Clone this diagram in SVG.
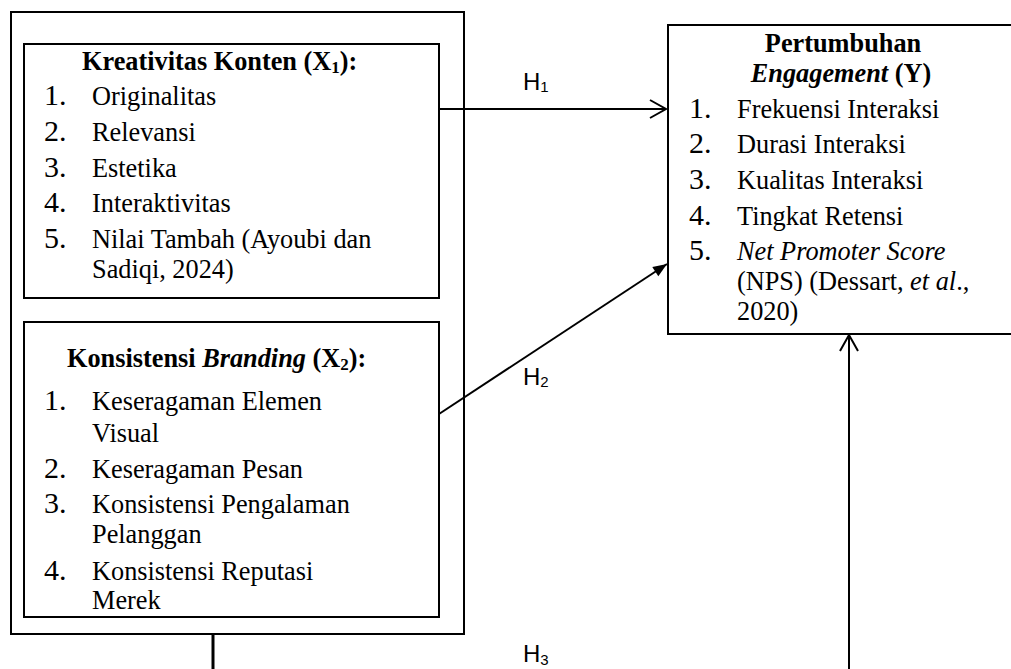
<svg xmlns="http://www.w3.org/2000/svg" width="1011" height="669" viewBox="0 0 1011 669">
<style>
.box{fill:none;stroke:#000;stroke-width:2}
.t{font-family:"Liberation Serif","Times New Roman",serif;font-size:26.3px;fill:#000}
.n{font-family:"Liberation Serif","Times New Roman",serif;font-size:30px;fill:#000}
.b{font-weight:bold}
.i{font-style:italic}
.h{font-family:"Liberation Sans",Arial,sans-serif;font-size:24px;fill:#000}
.ln{fill:none;stroke:#000;stroke-width:2}
</style>
<defs>
<marker id="open" markerUnits="userSpaceOnUse" markerWidth="20" markerHeight="20" refX="16" refY="9" orient="auto" overflow="visible">
<path d="M0,0 L16,9 L0,18" fill="none" stroke="#000" stroke-width="2"/>
</marker>
<marker id="fill" markerUnits="userSpaceOnUse" markerWidth="16" markerHeight="12" refX="14" refY="5.5" orient="auto" overflow="visible">
<path d="M0,0 L14,5.5 L0,11 z" fill="#000"/>
</marker>
</defs>
<rect width="1011" height="669" fill="#fff"/>
<g id="outer">
<rect class="box" x="11" y="12" width="453" height="622"/>
</g>
<g id="x1">
<rect class="box" x="24" y="44" width="415" height="254"/>
<text class="t b" x="82" y="70">Kreativitas Konten (X<tspan font-size="17" dy="3">1</tspan><tspan dy="-3">):</tspan></text>
<text class="n" x="44" y="105">1.</text><text class="t" x="92" y="105">Originalitas</text>
<text class="n" x="44" y="141">2.</text><text class="t" x="92" y="141">Relevansi</text>
<text class="n" x="44" y="177">3.</text><text class="t" x="92" y="177">Estetika</text>
<text class="n" x="44" y="212">4.</text><text class="t" x="92" y="212">Interaktivitas</text>
<text class="n" x="44" y="248">5.</text><text class="t" x="92" y="248">Nilai Tambah (Ayoubi dan</text>
<text class="t" x="92" y="278">Sadiqi, 2024)</text>
</g>
<g id="x2">
<rect class="box" x="24" y="322" width="415" height="295"/>
<text class="t b" x="67" y="367">Konsistensi <tspan class="i">Branding</tspan> (X<tspan font-size="17" dy="3">2</tspan><tspan dy="-3">):</tspan></text>
<text class="n" x="44" y="410">1.</text><text class="t" x="92" y="410">Keseragaman Elemen</text>
<text class="t" x="92" y="442">Visual</text>
<text class="n" x="44" y="478">2.</text><text class="t" x="92" y="478">Keseragaman Pesan</text>
<text class="n" x="44" y="513">3.</text><text class="t" x="92" y="513">Konsistensi Pengalaman</text>
<text class="t" x="92" y="543">Pelanggan</text>
<text class="n" x="44" y="580">4.</text><text class="t" x="92" y="580">Konsistensi Reputasi</text>
<text class="t" x="92" y="609">Merek</text>
</g>
<g id="y">
<rect class="box" x="668" y="25" width="350" height="309"/>
<text class="t b" x="843" y="52" text-anchor="middle">Pertumbuhan</text>
<text class="t b" x="841" y="82" text-anchor="middle"><tspan class="i">Engagement</tspan> (Y)</text>
<text class="n" x="689" y="118">1.</text><text class="t" x="737" y="118">Frekuensi Interaksi</text>
<text class="n" x="689" y="153">2.</text><text class="t" x="737" y="153">Durasi Interaksi</text>
<text class="n" x="689" y="189">3.</text><text class="t" x="737" y="189">Kualitas Interaksi</text>
<text class="n" x="689" y="225">4.</text><text class="t" x="737" y="225">Tingkat Retensi</text>
<text class="n" x="689" y="260">5.</text><text class="t i" x="737" y="260">Net Promoter Score</text>
<text class="t" x="737" y="290">(NPS) (Dessart, <tspan class="i">et al</tspan>.,</text>
<text class="t" x="737" y="320">2020)</text>
</g>
<g id="connectors">
<line class="ln" x1="439" y1="109" x2="666" y2="109" marker-end="url(#open)"/>
<line class="ln" x1="439" y1="414" x2="667" y2="264" marker-end="url(#fill)"/>
<line class="ln" x1="849" y1="669" x2="849" y2="335" marker-end="url(#open)"/>
<line x1="213" y1="634" x2="213" y2="669" stroke="#000" stroke-width="3"/>
</g>
<g id="labels">
<text class="h" x="523" y="90">H<tspan font-size="15" dy="2">1</tspan></text>
<text class="h" x="523" y="385">H<tspan font-size="15" dy="2">2</tspan></text>
<text class="h" x="523" y="662">H<tspan font-size="15" dy="3">3</tspan></text>
</g>
</svg>
